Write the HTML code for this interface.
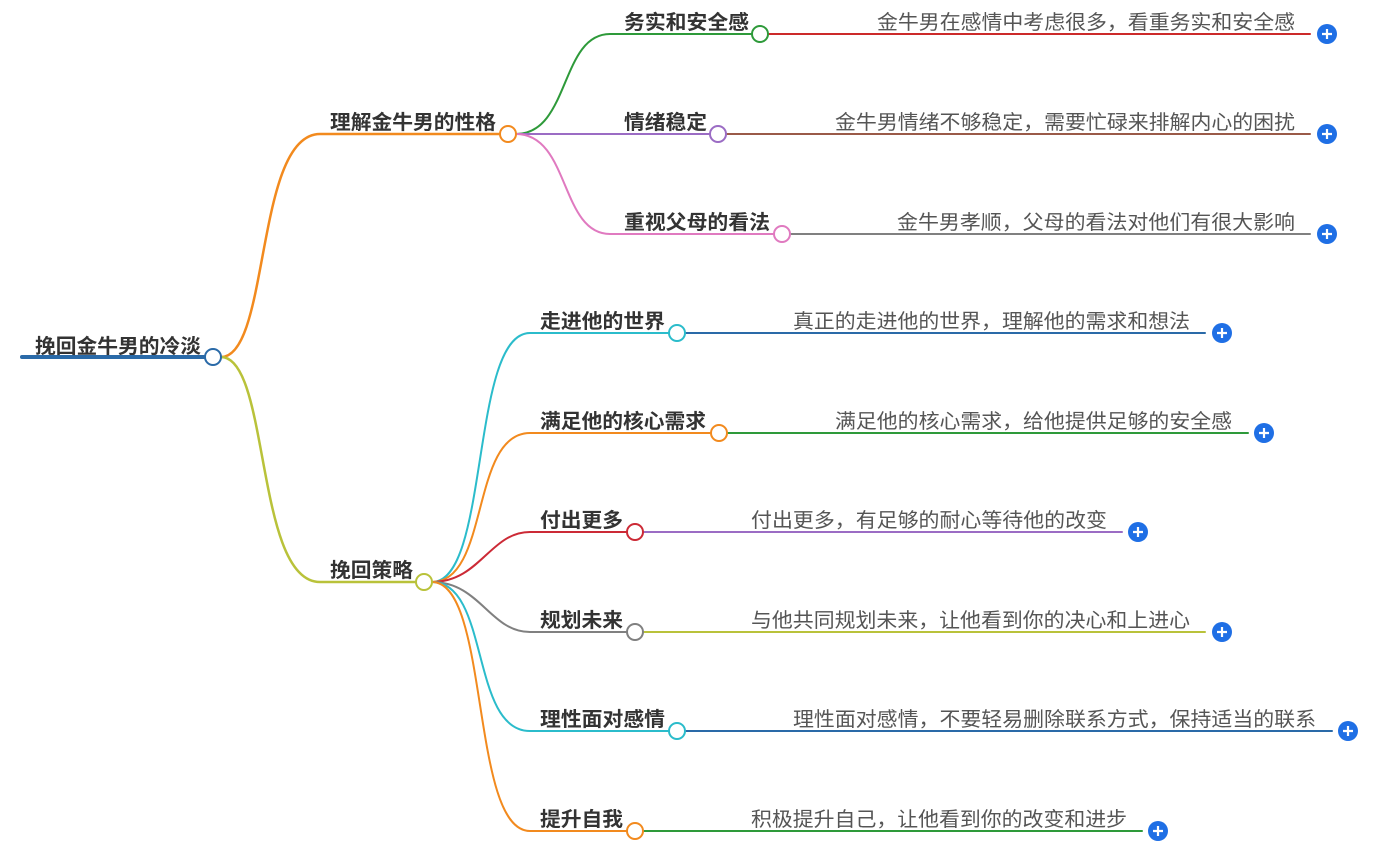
<!DOCTYPE html>
<html><head><meta charset="utf-8"><style>
html,body{margin:0;padding:0;background:#fff;}
svg{display:block;}
.b{font-family:"Liberation Sans","Noto Sans CJK SC",sans-serif;font-weight:bold;font-size:20px;fill:#333;}
.l{font-family:"Liberation Sans","Noto Sans CJK SC",sans-serif;font-size:20px;fill:#555;}
</style></head><body>
<svg width="1383" height="846" viewBox="0 0 1383 846" xmlns="http://www.w3.org/2000/svg">
<g fill="none" stroke-linecap="round">
<!-- root -->
<line x1="22" y1="357" x2="205" y2="357" stroke="#2a6aa8" stroke-width="4"/>
<!-- level1 -->
<path d="M221 357 C270 357 255 134 320 134 L500 134" stroke="#f28a1e" stroke-width="2.5"/>
<path d="M221 357 C270 357 255 582 320 582 L416 582" stroke="#b9c23a" stroke-width="2.5"/>
<!-- group 1 children -->
<path d="M516 134 C570 134 560 34 610 34 L752 34" stroke="#2e9a3a" stroke-width="2"/>
<path d="M516 134 L710 134" stroke="#9b6cc4" stroke-width="2"/>
<path d="M516 134 C570 134 560 234 610 234 L774 234" stroke="#e07ac0" stroke-width="2"/>
<!-- group 2 children -->
<path d="M432 582 C490 582 470 333 530 333 L669 333" stroke="#2bbccb" stroke-width="2"/>
<path d="M432 582 C490 582 470 433 530 433 L711 433" stroke="#f28a1e" stroke-width="2"/>
<path d="M432 582 C480 582 490 532 530 532 L627 532" stroke="#cc2a36" stroke-width="2"/>
<path d="M432 582 C480 582 490 632 530 632 L627 632" stroke="#808080" stroke-width="2"/>
<path d="M432 582 C490 582 470 731 530 731 L669 731" stroke="#2bbccb" stroke-width="2"/>
<path d="M432 582 C490 582 470 831 530 831 L627 831" stroke="#f28a1e" stroke-width="2"/>
<!-- leaf lines -->
<line x1="768" y1="34" x2="1310" y2="34" stroke="#cc2a2a" stroke-width="2"/>
<line x1="726" y1="134" x2="1310" y2="134" stroke="#9a5a48" stroke-width="2"/>
<line x1="790" y1="234" x2="1310" y2="234" stroke="#808080" stroke-width="2"/>
<line x1="685" y1="333" x2="1205" y2="333" stroke="#2a6aa8" stroke-width="2"/>
<line x1="727" y1="433" x2="1248" y2="433" stroke="#2e9a3a" stroke-width="2"/>
<line x1="643" y1="532" x2="1122" y2="532" stroke="#9b6cc4" stroke-width="2"/>
<line x1="643" y1="632" x2="1205" y2="632" stroke="#b9c23a" stroke-width="2"/>
<line x1="685" y1="731" x2="1332" y2="731" stroke="#2a6aa8" stroke-width="2"/>
<line x1="643" y1="831" x2="1142" y2="831" stroke="#2e9a3a" stroke-width="2"/>
</g>
<!-- circles -->
<g fill="#fff" stroke-width="2">
<circle cx="213" cy="357" r="8" stroke="#2a6aa8"/>
<circle cx="508" cy="134" r="8" stroke="#f28a1e"/>
<circle cx="424" cy="582" r="8" stroke="#b9c23a"/>
<circle cx="760" cy="34" r="8" stroke="#2e9a3a"/>
<circle cx="718" cy="134" r="8" stroke="#9b6cc4"/>
<circle cx="782" cy="234" r="8" stroke="#e07ac0"/>
<circle cx="677" cy="333" r="8" stroke="#2bbccb"/>
<circle cx="719" cy="433" r="8" stroke="#f28a1e"/>
<circle cx="635" cy="532" r="8" stroke="#cc2a36"/>
<circle cx="635" cy="632" r="8" stroke="#808080"/>
<circle cx="677" cy="731" r="8" stroke="#2bbccb"/>
<circle cx="635" cy="831" r="8" stroke="#f28a1e"/>
</g>
<!-- plus buttons -->
<g>
<g transform="translate(1327,34)"><circle r="10" fill="#1f6fe5"/><path d="M-5 0H5M0 -5V5" stroke="#fff" stroke-width="2.2"/></g>
<g transform="translate(1327,134)"><circle r="10" fill="#1f6fe5"/><path d="M-5 0H5M0 -5V5" stroke="#fff" stroke-width="2.2"/></g>
<g transform="translate(1327,234)"><circle r="10" fill="#1f6fe5"/><path d="M-5 0H5M0 -5V5" stroke="#fff" stroke-width="2.2"/></g>
<g transform="translate(1222,333)"><circle r="10" fill="#1f6fe5"/><path d="M-5 0H5M0 -5V5" stroke="#fff" stroke-width="2.2"/></g>
<g transform="translate(1264,433)"><circle r="10" fill="#1f6fe5"/><path d="M-5 0H5M0 -5V5" stroke="#fff" stroke-width="2.2"/></g>
<g transform="translate(1138,532)"><circle r="10" fill="#1f6fe5"/><path d="M-5 0H5M0 -5V5" stroke="#fff" stroke-width="2.2"/></g>
<g transform="translate(1222,632)"><circle r="10" fill="#1f6fe5"/><path d="M-5 0H5M0 -5V5" stroke="#fff" stroke-width="2.2"/></g>
<g transform="translate(1348,731)"><circle r="10" fill="#1f6fe5"/><path d="M-5 0H5M0 -5V5" stroke="#fff" stroke-width="2.2"/></g>
<g transform="translate(1158,831)"><circle r="10" fill="#1f6fe5"/><path d="M-5 0H5M0 -5V5" stroke="#fff" stroke-width="2.2"/></g>
</g>
<!-- bold labels -->
<text class="b" x="35" y="353" textLength="166" lengthAdjust="spacingAndGlyphs">挽回金牛男的冷淡</text>
<text class="b" x="330" y="129" textLength="166" lengthAdjust="spacingAndGlyphs">理解金牛男的性格</text>
<text class="b" x="330" y="577" textLength="83" lengthAdjust="spacingAndGlyphs">挽回策略</text>
<text class="b" x="624" y="29" textLength="125" lengthAdjust="spacingAndGlyphs">务实和安全感</text>
<text class="b" x="624" y="129" textLength="83" lengthAdjust="spacingAndGlyphs">情绪稳定</text>
<text class="b" x="624" y="229" textLength="146" lengthAdjust="spacingAndGlyphs">重视父母的看法</text>
<text class="b" x="540" y="328" textLength="125" lengthAdjust="spacingAndGlyphs">走进他的世界</text>
<text class="b" x="540" y="428" textLength="166" lengthAdjust="spacingAndGlyphs">满足他的核心需求</text>
<text class="b" x="540" y="527" textLength="83" lengthAdjust="spacingAndGlyphs">付出更多</text>
<text class="b" x="540" y="627" textLength="83" lengthAdjust="spacingAndGlyphs">规划未来</text>
<text class="b" x="540" y="726" textLength="125" lengthAdjust="spacingAndGlyphs">理性面对感情</text>
<text class="b" x="540" y="826" textLength="83" lengthAdjust="spacingAndGlyphs">提升自我</text>
<!-- leaf labels -->
<text class="l" x="877" y="29" textLength="418" lengthAdjust="spacingAndGlyphs">金牛男在感情中考虑很多，看重务实和安全感</text>
<text class="l" x="835" y="129" textLength="460" lengthAdjust="spacingAndGlyphs">金牛男情绪不够稳定，需要忙碌来排解内心的困扰</text>
<text class="l" x="897" y="229" textLength="398" lengthAdjust="spacingAndGlyphs">金牛男孝顺，父母的看法对他们有很大影响</text>
<text class="l" x="793" y="328" textLength="397" lengthAdjust="spacingAndGlyphs">真正的走进他的世界，理解他的需求和想法</text>
<text class="l" x="835" y="428" textLength="397" lengthAdjust="spacingAndGlyphs">满足他的核心需求，给他提供足够的安全感</text>
<text class="l" x="751" y="527" textLength="356" lengthAdjust="spacingAndGlyphs">付出更多，有足够的耐心等待他的改变</text>
<text class="l" x="751" y="627" textLength="439" lengthAdjust="spacingAndGlyphs">与他共同规划未来，让他看到你的决心和上进心</text>
<text class="l" x="793" y="726" textLength="523" lengthAdjust="spacingAndGlyphs">理性面对感情，不要轻易删除联系方式，保持适当的联系</text>
<text class="l" x="751" y="826" textLength="376" lengthAdjust="spacingAndGlyphs">积极提升自己，让他看到你的改变和进步</text>
</svg>
</body></html>
